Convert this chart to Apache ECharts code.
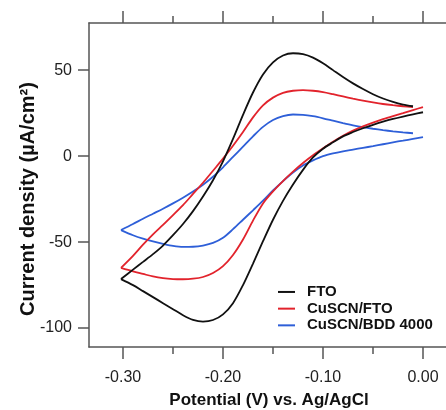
<!DOCTYPE html>
<html><head><meta charset="utf-8">
<script src="https://cdn.jsdelivr.net/npm/echarts@6/dist/echarts.min.js"></script>
<style>html,body{margin:0;padding:0;background:#fff}#c{width:446px;height:410px}</style>
</head><body><div id="c"></div>
<script>
// Tick positions
const xMajorTicks = [-0.30, -0.20, -0.10, 0.00];
const xMinorTicks = [-0.25, -0.15, -0.05];
const yMajorTicks = [-100, -50, 0, 50];
const seriesNames = ['FTO', 'CuSCN/FTO', 'CuSCN/BDD 4000'];

// [potential V, current density µA/cm²]; cathodic scan 0.00 -> -0.30
const ftoCathodic = [[0.000,25.5],[-0.010,24.3],[-0.020,23],[-0.030,21.6],[-0.040,20],[-0.050,18.2],[-0.060,16.2],[-0.070,14],[-0.080,11.5],[-0.090,8],[-0.100,4.3],[-0.110,-0.8],[-0.120,-8],[-0.130,-16.5],[-0.140,-26],[-0.150,-37],[-0.160,-49.5],[-0.170,-62.5],[-0.180,-75],[-0.190,-85.5],[-0.200,-92],[-0.210,-95.3],[-0.220,-96.2],[-0.230,-95.2],[-0.240,-92.5],[-0.250,-89],[-0.260,-85.5],[-0.270,-82],[-0.280,-78.5],[-0.290,-75],[-0.302,-71.5]];
// anodic scan -0.30 -> -0.01
const ftoAnodic = [[-0.302,-71.5],[-0.290,-66],[-0.280,-61.5],[-0.270,-57],[-0.260,-52],[-0.250,-46],[-0.240,-39.5],[-0.230,-32],[-0.220,-23.5],[-0.210,-14],[-0.200,-3],[-0.190,10],[-0.180,24],[-0.170,37],[-0.160,47.5],[-0.150,54.5],[-0.140,58.5],[-0.130,59.8],[-0.120,59.3],[-0.110,57.3],[-0.100,54],[-0.090,50],[-0.080,46],[-0.070,42.3],[-0.060,39],[-0.050,36],[-0.040,33.5],[-0.030,31.5],[-0.020,30],[-0.010,29]];

const cuscnFtoCathodic = [[0.000,28.5],[-0.010,26.8],[-0.020,25],[-0.030,23.3],[-0.040,21.5],[-0.050,19.5],[-0.060,17.3],[-0.070,14.8],[-0.080,11.8],[-0.090,8.3],[-0.100,4.5],[-0.110,0.5],[-0.120,-4],[-0.130,-9],[-0.140,-14.5],[-0.150,-20.5],[-0.160,-27.5],[-0.170,-37.5],[-0.180,-48.5],[-0.190,-57.5],[-0.200,-64],[-0.210,-68],[-0.220,-70.3],[-0.230,-71.3],[-0.240,-71.6],[-0.250,-71.5],[-0.260,-71],[-0.270,-70],[-0.280,-68.5],[-0.290,-67],[-0.302,-65]];
const cuscnFtoAnodic = [[-0.302,-65],[-0.290,-58],[-0.280,-51.5],[-0.270,-45.5],[-0.260,-40],[-0.250,-34.3],[-0.240,-28.5],[-0.230,-22],[-0.220,-15.5],[-0.210,-8.5],[-0.200,-1.5],[-0.190,6],[-0.180,14],[-0.170,22.5],[-0.160,29.5],[-0.150,34],[-0.140,36.8],[-0.130,38],[-0.120,38.4],[-0.110,38],[-0.100,37.2],[-0.090,36],[-0.080,34.7],[-0.070,33.4],[-0.060,32.2],[-0.050,31.2],[-0.040,30.3],[-0.030,29.6],[-0.020,29],[-0.010,28.5]];

const cuscnBddCathodic = [[0.000,11],[-0.010,10],[-0.020,9],[-0.030,8],[-0.040,6.9],[-0.050,5.8],[-0.060,4.8],[-0.070,3.8],[-0.080,2.8],[-0.090,1.6],[-0.100,0],[-0.110,-2.5],[-0.120,-5.5],[-0.130,-9.5],[-0.140,-14.5],[-0.150,-20],[-0.160,-25.9],[-0.170,-31.5],[-0.180,-37],[-0.190,-42.5],[-0.200,-47.5],[-0.210,-50.5],[-0.220,-52],[-0.230,-52.7],[-0.240,-52.8],[-0.250,-52.2],[-0.260,-51],[-0.270,-49.6],[-0.280,-48],[-0.290,-46],[-0.302,-43]];
const cuscnBddAnodic = [[-0.302,-43],[-0.290,-39.5],[-0.280,-36.4],[-0.270,-33.5],[-0.260,-30.6],[-0.250,-27.5],[-0.240,-24.2],[-0.230,-20.6],[-0.220,-16.6],[-0.210,-12],[-0.200,-6.5],[-0.190,-0.5],[-0.180,5.5],[-0.170,11.5],[-0.160,17],[-0.150,21],[-0.140,23.3],[-0.130,24.2],[-0.120,24],[-0.110,23.2],[-0.100,22],[-0.090,20.6],[-0.080,19.2],[-0.070,17.9],[-0.060,16.8],[-0.050,15.9],[-0.040,15.1],[-0.030,14.4],[-0.020,13.8],[-0.010,13.3]];

const colors = ['#111111', '#e2232c', '#2e5fd8'];
const branches = [
  [ftoCathodic, ftoAnodic],
  [cuscnFtoCathodic, cuscnFtoAnodic],
  [cuscnBddCathodic, cuscnBddAnodic]
];

const axisColor = '#555';
const font = 'Liberation Sans, Arial, sans-serif';

const series = [];
branches.forEach((pair, i) => {
  pair.forEach(data => {
    series.push({
      name: seriesNames[i], type: 'line', data: data, smooth: 0.3,
      symbol: 'none', showSymbol: false, xAxisIndex: 0, yAxisIndex: 0,
      lineStyle: { color: colors[i], width: 1.8 }, itemStyle: { color: colors[i] },
      z: 10 - i
    });
  });
});

const xBase = { type: 'value', min: -0.334, max: 0.026, splitLine: { show: false } };
const chart = echarts.init(document.getElementById('c'), null, { renderer: 'canvas' });
chart.setOption({
  animation: false,
  backgroundColor: '#fff',
  grid: { left: 89, top: 23, width: 360, height: 324, containLabel: false, outerBoundsMode: 'none' },
  legend: {
    data: seriesNames, orient: 'vertical', left: 278, top: 283.6, padding: 0,
    icon: 'rect', itemWidth: 17, itemHeight: 2, itemGap: 0,
    textStyle: { fontFamily: font, fontSize: 15, fontWeight: 'bold', color: '#111', lineHeight: 16.7, padding: [0, 0, 0, 7] }
  },
  xAxis: [
    Object.assign({}, xBase, {
      position: 'bottom',
      name: 'Potential (V) vs. Ag/AgCl', nameLocation: 'middle', nameGap: 45, nameMoveOverlap: false,
      nameTextStyle: { fontFamily: font, fontSize: 17, fontWeight: 'bold', color: '#111' },
      axisLine: { show: true, onZero: false, lineStyle: { color: axisColor, width: 1.5 } },
      axisTick: { show: true, inside: false, length: 12, customValues: xMajorTicks, lineStyle: { color: axisColor, width: 1.5 } },
      axisLabel: { show: true, margin: 23, customValues: xMajorTicks, fontFamily: font, fontSize: 16, color: '#222',
        formatter: v => v.toFixed(2) }
    }),
    Object.assign({}, xBase, {
      position: 'bottom',
      axisLine: { show: false, onZero: false },
      axisTick: { show: true, inside: false, length: 7, customValues: xMinorTicks, lineStyle: { color: axisColor, width: 1.5 } },
      axisLabel: { show: false }
    }),
    Object.assign({}, xBase, {
      position: 'top',
      axisLine: { show: true, onZero: false, lineStyle: { color: axisColor, width: 1.5 } },
      axisTick: { show: true, inside: false, length: 12, customValues: xMajorTicks, lineStyle: { color: axisColor, width: 1.5 } },
      axisLabel: { show: false }
    }),
    Object.assign({}, xBase, {
      position: 'top',
      axisLine: { show: false, onZero: false },
      axisTick: { show: true, inside: false, length: 7, customValues: xMinorTicks, lineStyle: { color: axisColor, width: 1.5 } },
      axisLabel: { show: false }
    })
  ],
  yAxis: [
    {
      type: 'value', min: -111, max: 77.4, position: 'left',
      splitLine: { show: false },
      name: 'Current density (µA/cm²)', nameLocation: 'middle', nameGap: 51, nameRotate: 90, nameMoveOverlap: false,
      nameTextStyle: { fontFamily: font, fontSize: 20, fontWeight: 'bold', color: '#111', padding: [0, 28, 0, 0] },
      axisLine: { show: true, onZero: false, lineStyle: { color: axisColor, width: 1.5 } },
      axisTick: { show: true, inside: false, length: 11, customValues: yMajorTicks, lineStyle: { color: axisColor, width: 1.5 } },
      axisLabel: { show: true, margin: 17, customValues: yMajorTicks, fontFamily: font, fontSize: 16, color: '#222' }
    }
  ],
  series: series
});
</script>
</body></html>
